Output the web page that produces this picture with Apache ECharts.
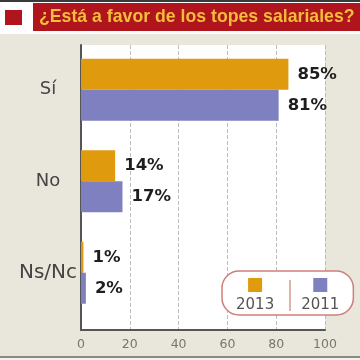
<!DOCTYPE html>
<html><head><meta charset="utf-8">
<script src="https://cdn.jsdelivr.net/npm/echarts@6/dist/echarts.min.js"></script>
<style>html,body{margin:0;padding:0;background:#e9e6dc}#c{width:360px;height:360px}</style>
</head><body><div id="c"></div>
<script>
const categories = ['Sí', 'No', 'Ns/Nc'];
const seriesNames = ['2013', '2011'];
const values2013 = [85, 14, 1];
const values2011 = [81, 17, 2];
const xTicks = [0, 20, 40, 60, 80, 100];
const colors = ['#e09a0e', '#7f80bf'];

const chart = echarts.init(document.getElementById('c'), null, {renderer: 'canvas'});
chart.setOption({
  backgroundColor: '#e9e6dc',
  animation: false,
  title: {
    text: '¿Está a favor de los topes salariales?',
    left: 39, top: 8, padding: 0,
    textStyle: {fontFamily: 'Liberation Sans', fontWeight: 'bold', fontSize: 17.7, color: '#f4bd3a'}
  },
  graphic: [
    {type: 'rect', z: -10, shape: {x: 0, y: 0, width: 360, height: 34}, style: {fill: '#ffffff'}},
    {type: 'rect', z: -9, shape: {x: 0, y: 0, width: 360, height: 2}, style: {fill: '#3a3a3a'}},
    {type: 'rect', z: -9, shape: {x: 33, y: 3, width: 327, height: 28}, style: {fill: '#b0141c'}},
    {type: 'rect', z: -9, shape: {x: 5, y: 10, width: 17, height: 15}, style: {fill: '#b0141c'}},
    {type: 'rect', z: -9, shape: {x: 0, y: 356, width: 360, height: 2}, style: {fill: '#8a8a84'}},
    {type: 'rect', z: -9, shape: {x: 0, y: 358, width: 360, height: 2}, style: {fill: '#f4f2ec'}},
    {type: 'line', z: 20, shape: {x1: 290, y1: 280, x2: 290, y2: 311}, style: {stroke: '#d69a8e', lineWidth: 1.5}}
  ],
  legend: {
    data: seriesNames,
    left: 222, top: 271,
    icon: 'none', itemWidth: 0, itemHeight: 0,
    itemGap: 22,
    padding: [7, 14, 2, 9],
    borderColor: '#cf7f7a', borderWidth: 1.5, borderRadius: 17,
    backgroundColor: '#ffffff',
    selectedMode: false,
    formatter: name => '{sq' + name + '|}\n{t|' + name + '}',
    textStyle: {
      rich: {
        sq2013: {width: 14, height: 14, backgroundColor: colors[0], align: 'center', lineHeight: 16},
        sq2011: {width: 14, height: 14, backgroundColor: colors[1], align: 'center', lineHeight: 16},
        t: {fontFamily: 'DejaVu Sans', fontSize: 15, color: '#555', lineHeight: 25, align: 'center'}
      }
    }
  },
  grid: [
    {left: 81, right: 35, top: 44, height: 274.5, containLabel: false},
    {left: 81, right: 35, top: 45, bottom: 30, show: true, backgroundColor: '#ffffff', borderWidth: 0, containLabel: false}
  ],
  xAxis: [
    {gridIndex: 0, type: 'value', min: 0, max: 100, interval: 20, show: false},
    {gridIndex: 1, type: 'value', min: 0, max: 100, interval: 20,
      axisLine: {show: true, lineStyle: {color: '#555', width: 2}},
      axisTick: {show: false},
      splitLine: {show: true, lineStyle: {color: '#bdbdbd', type: 'dashed', width: 1}},
      axisLabel: {color: '#77776d', fontFamily: 'DejaVu Sans', fontSize: 12.5, margin: 8,
        formatter: v => xTicks.includes(v) ? String(v) : ''}
    }
  ],
  yAxis: [
    {gridIndex: 0, type: 'category', data: categories, inverse: true,
      axisLine: {show: false}, axisTick: {show: false}, splitLine: {show: false},
      axisLabel: {color: '#444', fontFamily: 'DejaVu Sans', fontSize: 18, align: 'center', margin: 33,
        formatter: v => v === 'Ns/Nc' ? '{b|' + v + '}' : v,
        rich: {b: {fontFamily: 'DejaVu Sans', fontSize: 20, color: '#444'}}}
    },
    {gridIndex: 1, type: 'value', min: 0, max: 1,
      axisLine: {show: true, lineStyle: {color: '#555', width: 2}},
      axisTick: {show: false}, axisLabel: {show: false}, splitLine: {show: false}
    }
  ],
  series: [
    {name: seriesNames[0], type: 'bar', xAxisIndex: 0, yAxisIndex: 0, data: values2013,
      barWidth: 31, barGap: '0%', itemStyle: {color: colors[0]},
      label: {show: true, position: 'right', distance: 9, formatter: '{c}%',
        fontFamily: 'DejaVu Sans', fontWeight: 'bold', fontSize: 16.5, color: '#1e1e1e'}},
    {name: seriesNames[1], type: 'bar', xAxisIndex: 0, yAxisIndex: 0, data: values2011,
      barWidth: 31, barGap: '0%', itemStyle: {color: colors[1]},
      label: {show: true, position: 'right', distance: 9, formatter: '{c}%',
        fontFamily: 'DejaVu Sans', fontWeight: 'bold', fontSize: 16.5, color: '#1e1e1e'}}
  ]
});
</script></body></html>
